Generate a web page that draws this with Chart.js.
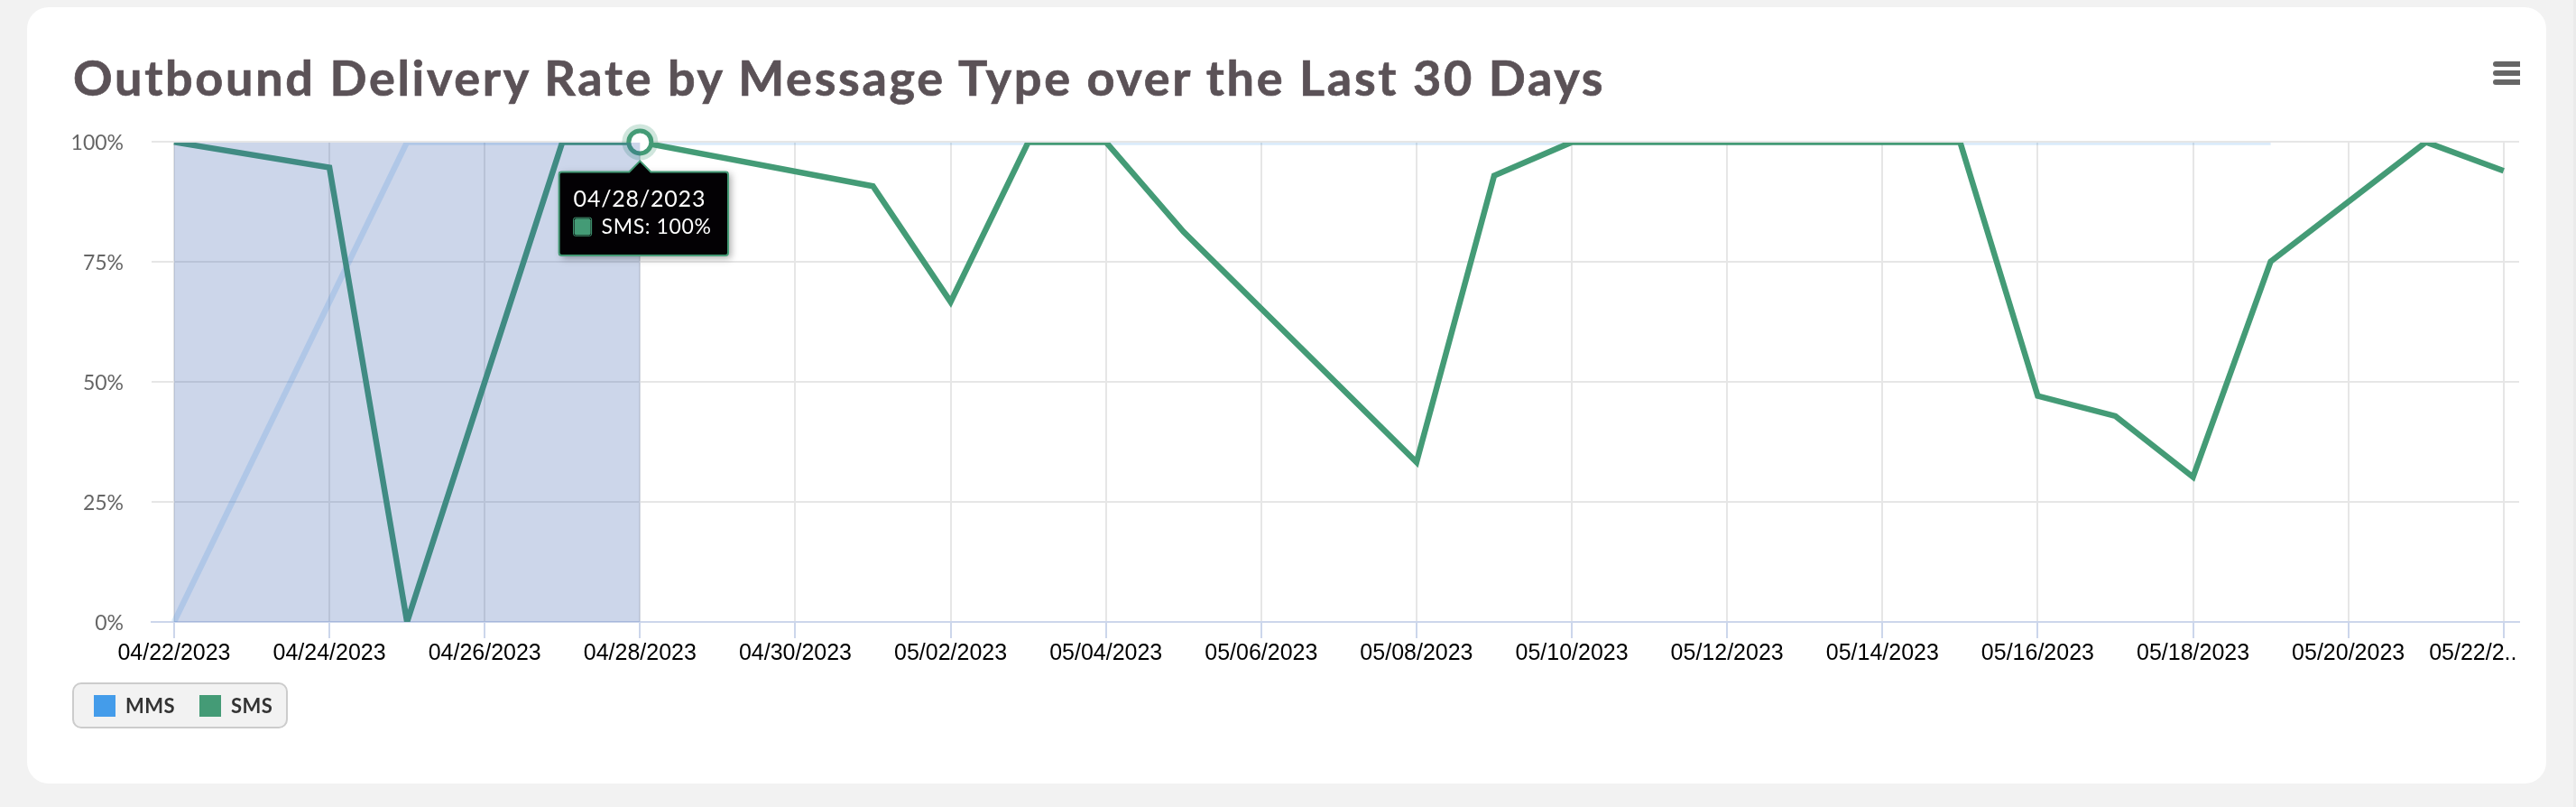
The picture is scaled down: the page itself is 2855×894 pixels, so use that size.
<!DOCTYPE html>
<html>
<head>
<meta charset="utf-8">
<title>Outbound Delivery Rate</title>
<script src="https://cdn.jsdelivr.net/npm/chart.js@4/dist/chart.umd.min.js"></script>
<style>
  html, body { margin: 0; padding: 0; width: 2855px; height: 894px; overflow: hidden; background: #f2f2f2; }
  #card { position: absolute; left: 30px; top: 8px; width: 2792px; height: 860px; background: #fff; border-radius: 24px; }
  #edge { position: absolute; left: 2852px; top: 0; width: 3px; height: 894px; background: #ebebeb; }
  canvas { position: absolute; left: 0; top: 0; }
  h1 { position: absolute; left: 81px; top: 52px; margin: 0; font: 700 54px/68px Lato, sans-serif; letter-spacing: 2.7px; color: #5b5257; white-space: nowrap; -webkit-text-stroke: 0.7px #5b5257; }
  #menu { position: absolute; left: 2763px; top: 68px; width: 30px; }
  #menu span { display: block; height: 6px; margin-bottom: 4px; background: #666; border-radius: 3px 0 0 3px; }
  #legend { position: absolute; left: 80px; top: 756px; width: 235px; height: 47px; background: #f2f2f2; border: 2px solid #ccc; border-radius: 10px; font: 700 22px/47px Lato, sans-serif; letter-spacing: 0.5px; color: #333; }
  #legend i { position: absolute; top: 12px; width: 24px; height: 24px; }
  #legend b { position: absolute; top: 0; font-weight: 700; }
</style>
</head>
<body>
<div id="card"></div>
<div id="edge"></div>
<canvas id="chart" width="2855" height="894"></canvas>
<h1>Outbound Delivery Rate by Message Type over the Last 30 Days</h1>
<div id="menu"><span></span><span></span><span></span></div>
<div id="legend"></div>
<script>
const categories = ["04/22/2023","04/23/2023","04/24/2023","04/25/2023","04/26/2023","04/27/2023","04/28/2023","04/29/2023","04/30/2023","05/01/2023","05/02/2023","05/03/2023","05/04/2023","05/05/2023","05/06/2023","05/07/2023","05/08/2023","05/09/2023","05/10/2023","05/11/2023","05/12/2023","05/13/2023","05/14/2023","05/15/2023","05/16/2023","05/17/2023","05/18/2023","05/19/2023","05/20/2023","05/21/2023","05/22/2023"];
// null = no data that day, the line just runs across
const mmsValues = [0,null,null,100,100,100,100,100,100,100,100,100,100,100,100,100,100,100,100,100,100,100,100,100,100,100,100,100,null,null,null];
const smsValues = [100,null,94.7,0,null,100,100,null,null,90.8,66.7,100,100,81.3,null,null,33.3,93,100,100,100,100,100,100,47.1,42.9,30.2,75.1,null,100,94];
const seriesNames = ["MMS", "SMS"];
const seriesColors = ["#449cea", "#449b76"];
const yTicks = [0, 25, 50, 75, 100];
const hoverIndex = 6;
const bandStart = 0;
const bandEnd = 6;

const toPoints = vals => vals.map((v, i) => ({ x: i, y: v }));
const onlyHover = vals => vals.map((v, i) => ({ x: i, y: i === hoverIndex ? v : null }));

const legend = document.getElementById("legend");
[[22, 57], [139, 174]].forEach((pos, i) => {
  legend.innerHTML += `<i style="left:${pos[0]}px;background:${seriesColors[i]}"></i><b style="left:${pos[1]}px">${seriesNames[i]}</b>`;
});

Chart.Tooltip.positioners.hoverPoint = items => ({ x: items[0].element.x + 4, y: items[0].element.y + 21 });

// blue selection rectangle, sits on top of the lines but under the tooltip
const bandPlugin = {
  id: "band",
  afterDatasetsDraw(chart) {
    const { ctx, chartArea, scales } = chart;
    const x0 = scales.x.getPixelForValue(bandStart);
    const x1 = scales.x.getPixelForValue(bandEnd);
    ctx.save();
    ctx.fillStyle = "rgba(51,92,173,0.25)";
    ctx.fillRect(x0, chartArea.top + 0.6, x1 - x0, chartArea.bottom - chartArea.top - 0.6);
    ctx.restore();
  }
};

// last label is cut short in the reference and pushed back to the plot edge
const lastLabelPlugin = {
  id: "lastLabel",
  beforeDraw(chart) {
    const items = chart.scales.x.getLabelItems(chart.chartArea);
    const last = items[items.length - 1];
    last.options.translation = [last.options.translation[0] - 34, last.options.translation[1]];
  }
};

const tooltipLookPlugin = {
  id: "tooltipLook",
  beforeTooltipDraw(chart, args) {
    const t = args.tooltip, ctx = chart.ctx;
    // box sits a bit right of the point, the caret stays on the point
    t.caretX = chart.scales.x.getPixelForValue(hoverIndex);
    ctx.save();
    ctx.save();
    ctx.shadowColor = "rgba(0,0,0,0.35)";
    ctx.shadowBlur = 8;
    ctx.shadowOffsetX = 3;
    ctx.shadowOffsetY = 3;
    ctx.fillStyle = "#000";
    ctx.fillRect(t.x, t.y, t.width, t.height);
    ctx.restore();
    ctx.letterSpacing = "0.8px";
  },
  afterTooltipDraw(chart) {
    chart.ctx.restore();
  }
};

const lineClip = { left: false, right: false, top: -0.6, bottom: 0 };

const chart = new Chart(document.getElementById("chart").getContext("2d"), {
  type: "line",
  data: {
    datasets: [
      { label: seriesNames[0], order: 3, data: toPoints(mmsValues), borderColor: "rgba(68,156,234,0.2)", borderWidth: 6.5, pointRadius: 0, spanGaps: true, clip: lineClip },
      { label: seriesNames[1], order: 2, data: toPoints(smsValues), borderColor: seriesColors[1], borderWidth: 6.5, pointRadius: 0, spanGaps: true, clip: lineClip },
      { label: "halo", order: 1, data: onlyHover(smsValues), showLine: false, pointRadius: 20, pointBorderWidth: 0, pointBackgroundColor: "rgba(68,155,118,0.25)", clip: false },
      { label: "marker", order: 0, data: onlyHover(smsValues), showLine: false, pointRadius: 12.5, pointBorderWidth: 5, pointBorderColor: seriesColors[1], pointBackgroundColor: "#fff", clip: false }
    ]
  },
  options: {
    responsive: false,
    animation: false,
    events: [],
    layout: { padding: { top: 157.4, right: 63, left: 0, bottom: 0 } },
    scales: {
      x: {
        type: "linear",
        min: -0.29,
        max: 30.2,
        afterFit(scale) { scale.height = 205; },
        grid: { color: "#e6e6e6", lineWidth: 2, tickLength: 18, tickColor: "#ccd6eb", tickWidth: 2 },
        border: { display: true, color: "#ccd6eb", width: 2 },
        ticks: {
          stepSize: 2,
          includeBounds: false,
          autoSkip: false,
          maxRotation: 0,
          padding: 2,
          color: "#000",
          font: { family: "Liberation Sans", size: 25 },
          callback: v => (v === 30 ? "05/22/2.." : categories[v])
        }
      },
      y: {
        min: 0,
        max: 100,
        afterFit(scale) { scale.width = 168; },
        afterBuildTicks(scale) { scale.ticks = yTicks.map(v => ({ value: v })); },
        grid: { color: "#e6e6e6", lineWidth: 2, drawTicks: false },
        border: { display: false },
        ticks: { padding: 31, labelOffset: 1.5, color: "#666", font: { family: "Lato", size: 23 }, callback: v => v + "%" }
      }
    },
    plugins: {
      legend: { display: false },
      title: { display: false },
      tooltip: {
        position: "hoverPoint",
        xAlign: "center",
        yAlign: "top",
        caretSize: 12,
        caretPadding: 0,
        cornerRadius: 3,
        backgroundColor: "#030104",
        borderColor: seriesColors[1],
        borderWidth: 2,
        padding: { left: 16, right: 24, top: 16, bottom: 18 },
        titleFont: { family: "Lato", size: 25, weight: "400" },
        bodyFont: { family: "Lato", size: 23 },
        titleColor: "#fff",
        bodyColor: "#fff",
        titleMarginBottom: 1,
        boxWidth: 20,
        boxHeight: 20,
        boxPadding: 9,
        multiKeyBackground: "rgba(0,0,0,0)",
        callbacks: {
          title: items => categories[items[0].parsed.x],
          label: item => item.dataset.label + ": " + item.parsed.y + "%",
          labelColor: () => ({ borderColor: seriesColors[1], backgroundColor: seriesColors[1], borderRadius: 2 })
        }
      }
    }
  },
  plugins: [bandPlugin, lastLabelPlugin, tooltipLookPlugin]
});

// title and body of the tooltip are tracked differently
const drawTooltipBody = chart.tooltip.drawBody;
chart.tooltip.drawBody = function (pt, ctx, options) {
  ctx.letterSpacing = "0.6px";
  drawTooltipBody.call(this, pt, ctx, options);
};

chart.tooltip.setActiveElements([{ datasetIndex: 1, index: hoverIndex }], { x: 0, y: 0 });
chart.update();
</script>
</body>
</html>
